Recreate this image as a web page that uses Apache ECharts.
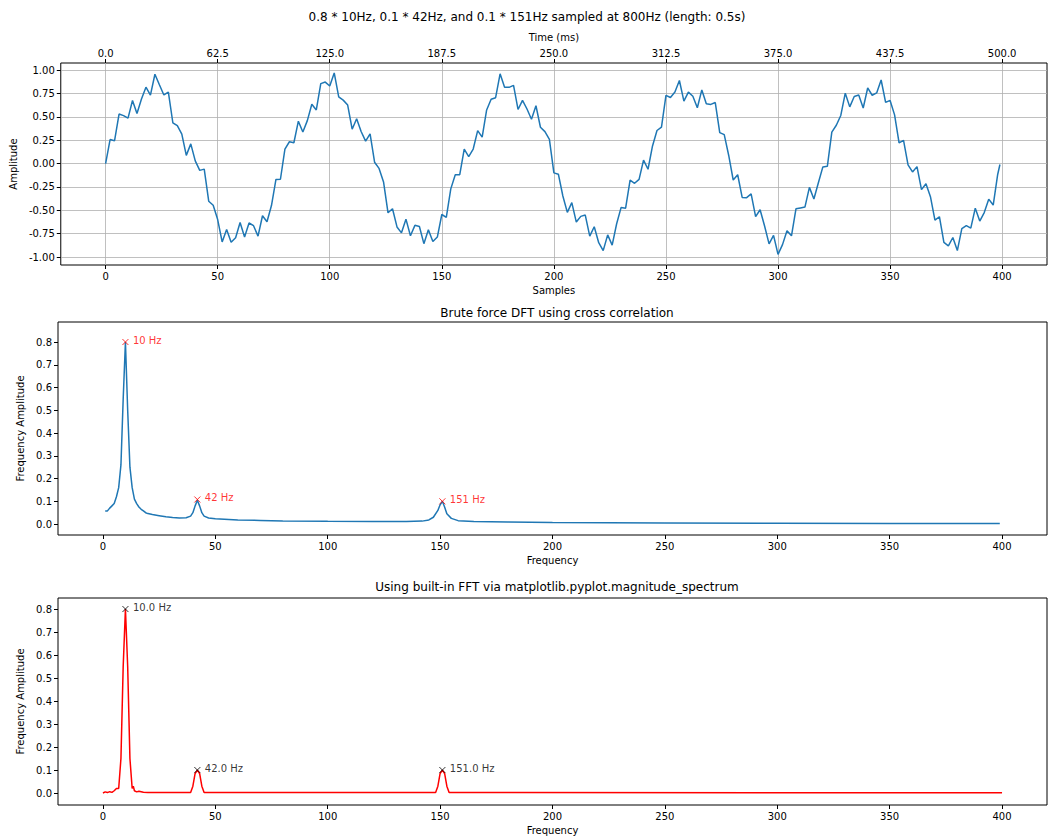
<!DOCTYPE html>
<html>
<head>
<meta charset="utf-8">
<script src="https://cdn.jsdelivr.net/npm/echarts@6/dist/echarts.min.js"></script>
<style>
  html, body { margin: 0; padding: 0; background: #fff; }
  #chart { width: 1054px; height: 840px; }
</style>
</head>
<body>
<div id="chart"></div>
<script>
// signal, every 2nd sample
var signalStep = 2;
var signal = [
  0, .256, .244, .529, .512, .485, .674, .535, .69, .816, .732, .955, .842, .733, .764, .436, .405, .315, .087, .21,
  .028, -.073, -.06, -.403, -.446, -.599, -.838, -.705, -.841, -.794, -.63, -.786, -.636, -.665, -.776, -.558, -.622, -.449, -.17, -.168,
  .154, .233, .222, .453, .338, .459, .634, .573, .854, .871, .829, .969, .713, .678, .625, .367, .479, .343, .24, .318,
  .014, -.052, -.197, -.527, -.484, -.678, -.741, -.595, -.772, -.661, -.674, -.857, -.708, -.834, -.786, -.545, -.576, -.271, -.12, -.119,
  .154, .075, .155, .352, .283, .573, .688, .704, .959, .816, .815, .836, .578, .676, .583, .474, .618, .388, .341, .258,
  -.1, -.114, -.347, -.522, -.418, -.626, -.565, -.551, -.776, -.676, -.847, -.931, -.763, -.872, -.644, -.469, -.477, -.178, -.211, -.169,
  .036, -.061, .188, .353, .39, .729, .706, .764, .888, .667, .764, .719, .596, .787, .639, .632, .652, .331, .309, .086,
  -.176, -.12, -.362, -.365, -.325, -.567, -.494, -.668, -.859, -.769, -.971, -.867, -.718, -.773, -.484, -.475, -.466, -.255, -.38, -.205,
  -.036, -.03, .336, .409, .514, .752, .606, .717, .732, .594, .808, .73, .755, .893, .654, .675, .52, .221, .248, -.015,
  -.09, -.033, -.279, -.217, -.355, -.606, -.569, -.843, -.88, -.791, -.931, -.696, -.664, -.691, -.477, -.615, -.524, -.381, -.444, -.117
];
var signalLast = [399, -0.01];

var dftFreq = [1,2,3,4,5,6,7,8,9,10,11,12,13,14,15,16,17,18,19,20,22,25,28,31,34,37,39,40,41,42,43,44,45,47,50,60,70,80,100,120,135,142,145,147,149,150,151,152,153,155,158,165,180,200,250,300,350,399];
var dftAmp  = [.058,.058,.07,.08,.09,.12,.16,.26,.55,.8,.5,.25,.16,.11,.09,.075,.065,.058,.05,.046,.042,.037,.032,.029,.027,.028,.035,.05,.08,.105,.08,.05,.035,.027,.023,.018,.016,.014,.012,.011,.011,.013,.018,.03,.06,.085,.1,.075,.045,.025,.015,.011,.009,.007,.005,.004,.003,.002];

var fftFreq = [0,1,2,3,4,5,6,7,8,9,10,11,12,13,13.5,14,15,16,18,20,39,40,41,42,43,44,45,148,149,150,151,152,153,154,400];
var fftAmp  = [0,.005,.002,.006,.003,.01,.02,.02,.15,.55,.8,.55,.15,.02,.03,.01,.005,.008,.003,.002,.002,.03,.085,.1,.085,.03,.002,.002,.03,.085,.1,.085,.03,.002,.001];

var dftPeaks = [[10, .8, '10 Hz'], [42, .108, '42 Hz'], [151, .1, '151 Hz']];
var fftPeaks = [[10, .8, '10.0 Hz'], [42, .1, '42.0 Hz'], [151, .1, '151.0 Hz']];

var sampleTicks = [0, 50, 100, 150, 200, 250, 300, 350, 400];
var timeTicks = [0, 62.5, 125, 187.5, 250, 312.5, 375, 437.5, 500];
var ampTicks = [-1, -0.75, -0.5, -0.25, 0, 0.25, 0.5, 0.75, 1];
var specTicks = [0, 0.1, 0.2, 0.3, 0.4, 0.5, 0.6, 0.7, 0.8];

var signalData = signal.map(function (v, i) { return [i * signalStep, v]; });
signalData.push(signalLast);

var font = 'DejaVu Sans';
var black = '#000';
function xAx(idx, extra) {
  var a = {
    type: 'value', gridIndex: idx, min: -20, max: 420,
    axisLine: { show: false, onZero: false },
    axisTick: { show: true, length: 4, lineStyle: { color: black }, customValues: sampleTicks },
    axisLabel: { color: black, fontFamily: font, fontSize: 10, customValues: sampleTicks, margin: 6 },
    splitLine: { show: false },
    name: 'Frequency', nameLocation: 'middle', nameGap: 20,
    nameTextStyle: { color: black, fontFamily: font, fontSize: 10 }
  };
  for (var k in extra) a[k] = extra[k];
  return a;
}
function yAx(idx, min, max, ticks, fmt, name, gap) {
  return {
    type: 'value', gridIndex: idx, min: min, max: max,
    axisLine: { show: false, onZero: false },
    axisTick: { show: true, length: 4, lineStyle: { color: black }, customValues: ticks },
    axisLabel: { color: black, fontFamily: font, fontSize: 10, customValues: ticks, formatter: fmt, margin: 6 },
    splitLine: { show: false },
    name: name, nameLocation: 'middle', nameGap: gap,
    nameTextStyle: { color: black, fontFamily: font, fontSize: 10 }
  };
}
function peakSeries(idx, pts, color) {
  return {
    type: 'scatter', xAxisIndex: idx, yAxisIndex: idx,
    data: pts.map(function (p) { return { value: [p[0], p[1]], name: p[2] }; }),
    symbol: 'path://M0,0L10,10M10,0L0,10', symbolSize: 6,
    itemStyle: { color: 'none', borderColor: color, borderWidth: 1 },
    label: { show: true, position: 'right', distance: 2, formatter: '{b}', color: color, fontFamily: font, fontSize: 10, offset: [0, -2] },
    z: 5
  };
}

var chart = echarts.init(document.getElementById('chart'), null, { renderer: 'svg' });
var gridBox = { show: true, borderColor: black, borderWidth: 1, backgroundColor: 'transparent' };
chart.setOption({
  animation: false,
  title: [
    { text: '0.8 * 10Hz, 0.1 * 42Hz, and 0.1 * 151Hz sampled at 800Hz (length: 0.5s)', left: 'center', top: 6,
      textStyle: { fontFamily: font, fontSize: 12, fontWeight: 'normal', color: black } },
    { text: 'Brute force DFT using cross correlation', left: 552, textAlign: 'center', top: 302,
      textStyle: { fontFamily: font, fontSize: 12, fontWeight: 'normal', color: black } },
    { text: 'Using built-in FFT via matplotlib.pyplot.magnitude_spectrum', left: 552, textAlign: 'center', top: 576,
      textStyle: { fontFamily: font, fontSize: 12, fontWeight: 'normal', color: black } }
  ],
  grid: [
    Object.assign({ left: 58, right: 7, top: 63, height: 202 }, gridBox),
    Object.assign({ left: 58, right: 7, top: 322, height: 213 }, gridBox),
    Object.assign({ left: 58, right: 7, top: 598, height: 207 }, gridBox)
  ],
  xAxis: [
    xAx(0, {
      name: 'Samples',
      splitLine: { show: true, lineStyle: { color: '#b0b0b0', width: 0.8 } }
    }),
    xAx(1, {}),
    xAx(2, {}),
    {
      type: 'value', gridIndex: 0, position: 'top', min: -25, max: 525,
      axisLine: { show: false, onZero: false }, splitLine: { show: false },
      axisTick: { show: true, length: 4, lineStyle: { color: black }, customValues: timeTicks },
      axisLabel: { color: black, fontFamily: font, fontSize: 10, customValues: timeTicks, margin: 5,
        formatter: function (v) { return v.toFixed(1); } },
      name: 'Time (ms)', nameLocation: 'middle', nameGap: 21,
      nameTextStyle: { color: black, fontFamily: font, fontSize: 10 }
    }
  ],
  yAxis: [
    Object.assign(yAx(0, -1.085, 1.075, ampTicks, function (v) { return v.toFixed(2); }, 'Amplitude', 40),
      { splitLine: { show: true, lineStyle: { color: '#b0b0b0', width: 0.8 } } }),
    yAx(1, -0.048, 0.888, specTicks, function (v) { return v.toFixed(1); }, 'Frequency Amplitude', 26),
    yAx(2, -0.052, 0.848, specTicks, function (v) { return v.toFixed(1); }, 'Frequency Amplitude', 26)
  ],
  series: [
    { type: 'line', xAxisIndex: 0, yAxisIndex: 0, data: signalData, showSymbol: false,
      lineStyle: { color: '#1f77b4', width: 1.5 } },
    { type: 'line', xAxisIndex: 1, yAxisIndex: 1, showSymbol: false,
      data: dftFreq.map(function (f, i) { return [f, dftAmp[i]]; }),
      lineStyle: { color: '#1f77b4', width: 1.5 } },
    { type: 'line', xAxisIndex: 2, yAxisIndex: 2, showSymbol: false,
      data: fftFreq.map(function (f, i) { return [f, fftAmp[i]]; }),
      lineStyle: { color: '#ff0000', width: 1.5 } },
    peakSeries(1, dftPeaks, '#ff0000'),
    peakSeries(2, fftPeaks, '#000000')
  ]
});
</script>
</body>
</html>
